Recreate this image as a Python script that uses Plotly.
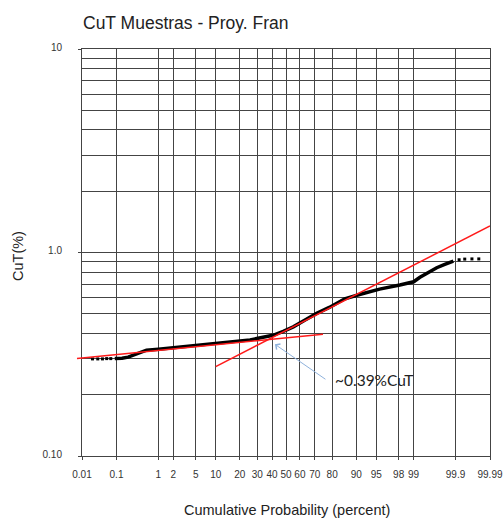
import math
import plotly.graph_objects as go
from statistics import NormalDist

_nd = NormalDist()


def pz(p):
    """Probability-paper transform: percent -> standard normal quantile."""
    return _nd.inv_cdf(p / 100.0)


# ---------------- axis ticks ----------------
x_tick_pct = [0.01, 0.1, 1, 2, 5, 10, 20, 30, 40, 50, 60, 70, 80, 90, 95, 98, 99, 99.9, 99.99]
x_tick_text = ["0.01", "0.1", "1", "2", "5", "10", "20", "30", "40", "50", "60",
               "70", "80", "90", "95", "98", "99", "99.9", "99.99"]
y_tick_vals = [0.1, 1, 10]
y_tick_text = ["0.10", "1.0", "10"]
y_minor_vals = [0.2, 0.3, 0.4, 0.5, 0.6, 0.7, 0.8, 0.9, 2, 3, 4, 5, 6, 7, 8, 9]

# ---------------- data ----------------
tail_low_pct = [0.021, 0.030, 0.041, 0.054, 0.070]
tail_low_cut = [0.300, 0.300, 0.300, 0.301, 0.301]

main_pct = [0.09, 0.14, 0.20, 0.29, 0.43, 0.55, 1.0, 1.8, 3.2, 6.2, 10.9, 17.6, 25.6,
            32.9, 40.6, 48.0, 55.3, 63.3, 71.2, 78.5, 85.8, 91.0, 95.6, 98.1, 99.0,
            99.27, 99.5, 99.70, 99.81, 99.886]
main_cut = [0.301, 0.302, 0.306, 0.315, 0.324, 0.331, 0.335, 0.340, 0.346, 0.353, 0.359,
            0.366, 0.372, 0.382, 0.392, 0.410, 0.431, 0.465, 0.502, 0.537, 0.592, 0.622,
            0.661, 0.692, 0.718, 0.755, 0.790, 0.842, 0.875, 0.908]

tail_high_pct = [99.92, 99.944, 99.965, 99.978]
tail_high_cut = [0.921, 0.928, 0.930, 0.930]

# fitted straight lines (red)
fit_low_pct = [0.01, 75]
fit_low_cut = [0.303, 0.397]
fit_high_pct = [10, 99.99]
fit_high_cut = [0.275, 1.35]

# annotation
arrow_pct = 42
arrow_cut = 0.354
arrow_text = "~0.39%CuT"

GRID = "#444444"
RED = "#ff1a1a"
FONT = "Liberation Sans, Arial, sans-serif"

W, H = 503, 518
ML, MR, MT, MB = 82, 13, 49, 62
PW, PH = W - ML - MR, H - MT - MB
LOW_LINE_OVERHANG_PX = 5  # the low fit line pokes slightly left of the frame


def px_x(px):
    return (px - ML) / PW


def px_y(py):
    return (H - MB - py) / PH


xr = [pz(0.01), pz(99.99)]
yr = [-1, 1]


def to_paper(z, v):
    return ((z - xr[0]) / (xr[1] - xr[0]), (math.log10(v) - yr[0]) / (yr[1] - yr[0]))


fig = go.Figure()

fig.add_trace(go.Scatter(
    x=[pz(p) for p in main_pct], y=main_cut, mode="lines",
    line=dict(color="black", width=3.5), hoverinfo="skip", showlegend=False))
fig.add_trace(go.Scatter(
    x=[pz(p) for p in tail_low_pct], y=tail_low_cut, mode="markers",
    marker=dict(color="black", size=3, symbol="square"), hoverinfo="skip", showlegend=False))
fig.add_trace(go.Scatter(
    x=[pz(p) for p in tail_high_pct], y=tail_high_cut, mode="markers",
    marker=dict(color="black", size=3, symbol="square"), hoverinfo="skip", showlegend=False))

fig.add_trace(go.Scatter(
    x=[pz(p) for p in fit_high_pct], y=fit_high_cut, mode="lines",
    line=dict(color=RED, width=1.5), hoverinfo="skip", showlegend=False))

# low fit line as an unclipped shape (it starts a few px left of the frame)
(x0p, y0p) = to_paper(pz(fit_low_pct[0]), fit_low_cut[0])
(x1p, y1p) = to_paper(pz(fit_low_pct[1]), fit_low_cut[1])
slope = (y1p - y0p) / (x1p - x0p)
dx = LOW_LINE_OVERHANG_PX / PW
shapes = [dict(type="line", xref="paper", yref="paper",
               x0=x0p - dx, y0=y0p - slope * dx, x1=x1p, y1=y1p,
               line=dict(color=RED, width=1.5), layer="above")]

fig.update_layout(
    width=W, height=H,
    margin=dict(l=ML, r=MR, t=MT, b=MB, autoexpand=False),
    paper_bgcolor="white", plot_bgcolor="white",
    font=dict(family=FONT, color="#222", size=10),
    title=dict(text="CuT Muestras - Proy. Fran", x=83 / W, xref="container",
               xanchor="left", y=1 - 23 / H, yref="container", yanchor="middle",
               font=dict(family=FONT, size=17.5, color="#222")),
    xaxis=dict(range=xr, tickmode="array", tickvals=[pz(p) for p in x_tick_pct],
               ticktext=x_tick_text, tickangle=0, automargin=False,
               showgrid=True, gridcolor=GRID, gridwidth=1,
               zeroline=False, showline=True, mirror=True, linecolor=GRID, linewidth=1,
               ticks="outside", ticklen=3, tickcolor=GRID, ticklabelstandoff=6,
               tickfont=dict(family=FONT, size=10, color="#333")),
    yaxis=dict(type="log", range=yr, tickmode="array", tickvals=y_tick_vals,
               ticktext=y_tick_text, automargin=False,
               showgrid=True, gridcolor=GRID, gridwidth=1,
               zeroline=False, showline=True, mirror=True, linecolor=GRID, linewidth=1,
               ticks="outside", ticklen=3, tickcolor=GRID, ticklabelstandoff=14,
               ticklabelshift=-2,
               tickfont=dict(family=FONT, size=10, color="#333"),
               minor=dict(tickmode="array", tickvals=y_minor_vals, showgrid=True,
                          gridcolor=GRID, gridwidth=1, ticks="")),
    shapes=shapes,
    annotations=[
        dict(x=pz(arrow_pct), y=math.log10(arrow_cut),
             xref="x", yref="y", text="", showarrow=True, ax=52, ay=36,
             arrowhead=4, arrowsize=1.3, arrowwidth=1, arrowcolor="#8fb2dc"),
        dict(x=px_x(333), y=px_y(380), xref="paper", yref="paper", text=arrow_text,
             showarrow=False, xanchor="left", yanchor="middle",
             font=dict(family="Lato, sans-serif", size=15.5, color="#222")),
        dict(text="Cumulative Probability (percent)", x=px_x(287), y=px_y(510),
             xref="paper", yref="paper", showarrow=False,
             xanchor="center", yanchor="middle",
             font=dict(family=FONT, size=14.5, color="#222")),
        dict(text="CuT(%)", x=px_x(18), y=px_y(256), xref="paper",
             yref="paper", showarrow=False, textangle=-90, xanchor="center",
             yanchor="middle", font=dict(family=FONT, size=14.5, color="#222")),
    ],
)

fig.write_html(
    "out.html",
    config={"displayModeBar": False},
    post_script="document.body.style.margin='0';document.body.style.overflow='hidden';",
)
